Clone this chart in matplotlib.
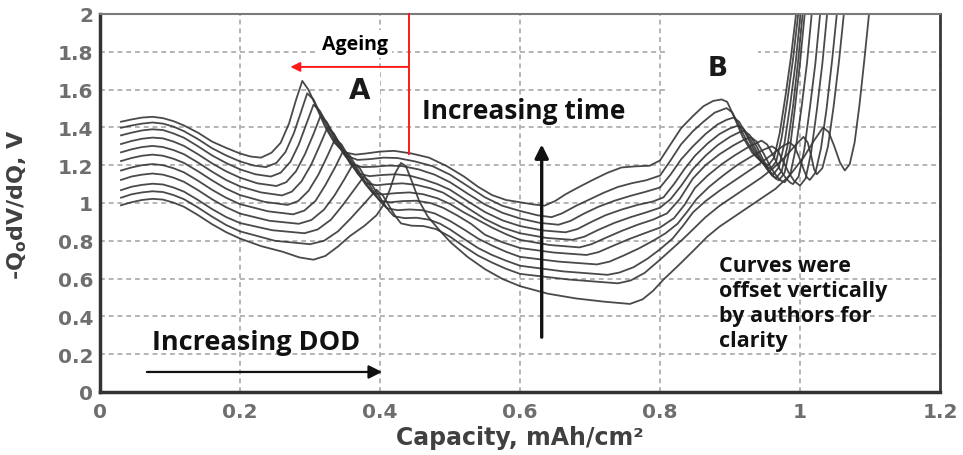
import matplotlib.pyplot as plt
from matplotlib.patches import Rectangle

# Differential voltage curves (capacity in mAh/cm2, -Q0 dV/dQ in V),
# listed from the top (most aged) curve down to the bottom one.
c0 = [(0.030, 1.430), (0.045, 1.442), (0.060, 1.452), (0.075, 1.456), (0.090, 1.449), (0.105, 1.433),
      (0.120, 1.410), (0.140, 1.372), (0.160, 1.325), (0.180, 1.292), (0.200, 1.262), (0.215, 1.246),
      (0.230, 1.240), (0.245, 1.266), (0.258, 1.318), (0.270, 1.420), (0.280, 1.545), (0.289, 1.646),
      (0.298, 1.598), (0.310, 1.500), (0.322, 1.400), (0.335, 1.318), (0.350, 1.268), (0.365, 1.256),
      (0.380, 1.262), (0.400, 1.272), (0.420, 1.276), (0.445, 1.262), (0.470, 1.240), (0.495, 1.196),
      (0.520, 1.140), (0.540, 1.086), (0.560, 1.042), (0.580, 1.016), (0.600, 1.004), (0.620, 0.992),
      (0.635, 0.986), (0.650, 1.010), (0.665, 1.046), (0.685, 1.086), (0.705, 1.124), (0.725, 1.160),
      (0.745, 1.188), (0.765, 1.194), (0.785, 1.197), (0.800, 1.225), (0.815, 1.310), (0.830, 1.395),
      (0.847, 1.460), (0.862, 1.512), (0.876, 1.540), (0.888, 1.548), (0.896, 1.535), (0.906, 1.455),
      (0.918, 1.350), (0.932, 1.265), (0.945, 1.218), (0.955, 1.200), (0.963, 1.240), (0.971, 1.370),
      (0.979, 1.560), (0.987, 1.770), (0.996, 2.050)]
c1 = [(0.030, 1.398), (0.045, 1.410), (0.060, 1.420), (0.075, 1.426), (0.090, 1.420), (0.105, 1.404),
      (0.120, 1.380), (0.140, 1.338), (0.160, 1.290), (0.180, 1.252), (0.200, 1.220), (0.220, 1.198),
      (0.237, 1.190), (0.252, 1.212), (0.265, 1.270), (0.277, 1.370), (0.287, 1.480), (0.296, 1.580),
      (0.305, 1.548), (0.315, 1.470), (0.327, 1.380), (0.340, 1.300), (0.352, 1.250), (0.368, 1.228),
      (0.385, 1.232), (0.405, 1.240), (0.425, 1.238), (0.450, 1.220), (0.475, 1.195), (0.500, 1.150),
      (0.525, 1.090), (0.550, 1.030), (0.575, 0.985), (0.600, 0.958), (0.625, 0.935), (0.645, 0.925),
      (0.660, 0.945), (0.680, 0.985), (0.700, 1.020), (0.720, 1.055), (0.740, 1.085), (0.760, 1.105),
      (0.780, 1.120), (0.800, 1.145), (0.815, 1.225), (0.830, 1.310), (0.847, 1.380), (0.862, 1.430),
      (0.878, 1.478), (0.895, 1.502), (0.903, 1.480), (0.913, 1.410), (0.925, 1.320), (0.938, 1.245),
      (0.950, 1.198), (0.958, 1.182), (0.966, 1.220), (0.974, 1.350), (0.982, 1.545), (0.990, 1.760),
      (0.999, 2.050)]
c2 = [(0.030, 1.358), (0.045, 1.372), (0.060, 1.384), (0.075, 1.390), (0.090, 1.386), (0.105, 1.368),
      (0.120, 1.345), (0.140, 1.300), (0.160, 1.252), (0.180, 1.212), (0.200, 1.178), (0.222, 1.152),
      (0.244, 1.140), (0.258, 1.160), (0.272, 1.218), (0.284, 1.310), (0.295, 1.420), (0.305, 1.520),
      (0.314, 1.488), (0.325, 1.415), (0.337, 1.330), (0.349, 1.255), (0.360, 1.205), (0.375, 1.190),
      (0.392, 1.192), (0.412, 1.198), (0.432, 1.195), (0.455, 1.178), (0.478, 1.150), (0.500, 1.110),
      (0.525, 1.050), (0.550, 0.992), (0.575, 0.948), (0.600, 0.918), (0.628, 0.895), (0.655, 0.885),
      (0.672, 0.905), (0.692, 0.945), (0.712, 0.980), (0.735, 1.012), (0.758, 1.038), (0.780, 1.060),
      (0.800, 1.082), (0.815, 1.150), (0.830, 1.230), (0.847, 1.300), (0.865, 1.365), (0.882, 1.415),
      (0.895, 1.440), (0.905, 1.452), (0.913, 1.430), (0.922, 1.370), (0.933, 1.290), (0.945, 1.220),
      (0.955, 1.170), (0.962, 1.152), (0.970, 1.190), (0.978, 1.320), (0.986, 1.520), (0.994, 1.750),
      (1.002, 2.050)]
c3 = [(0.030, 1.312), (0.045, 1.328), (0.060, 1.340), (0.075, 1.346), (0.090, 1.342), (0.105, 1.325),
      (0.120, 1.302), (0.140, 1.258), (0.160, 1.210), (0.180, 1.168), (0.200, 1.134), (0.225, 1.104),
      (0.252, 1.090), (0.266, 1.110), (0.280, 1.168), (0.293, 1.260), (0.305, 1.365), (0.315, 1.460),
      (0.324, 1.428), (0.335, 1.355), (0.347, 1.275), (0.358, 1.205), (0.370, 1.155), (0.385, 1.142),
      (0.402, 1.148), (0.422, 1.152), (0.442, 1.145), (0.462, 1.125), (0.482, 1.100), (0.500, 1.070),
      (0.525, 1.010), (0.550, 0.952), (0.575, 0.908), (0.600, 0.878), (0.632, 0.855), (0.665, 0.845),
      (0.682, 0.862), (0.702, 0.900), (0.722, 0.935), (0.745, 0.965), (0.768, 0.990), (0.790, 1.008),
      (0.805, 1.030), (0.820, 1.100), (0.835, 1.180), (0.850, 1.250), (0.868, 1.315), (0.885, 1.365),
      (0.900, 1.395), (0.912, 1.410), (0.920, 1.390), (0.930, 1.330), (0.941, 1.255), (0.952, 1.185),
      (0.960, 1.145), (0.966, 1.132), (0.974, 1.170), (0.982, 1.300), (0.990, 1.510), (0.997, 1.740),
      (1.005, 2.050)]
c4 = [(0.030, 1.268), (0.045, 1.284), (0.060, 1.296), (0.075, 1.302), (0.090, 1.296), (0.105, 1.280),
      (0.120, 1.258), (0.140, 1.214), (0.160, 1.166), (0.180, 1.122), (0.200, 1.088), (0.230, 1.056),
      (0.260, 1.040), (0.274, 1.060), (0.288, 1.115), (0.302, 1.205), (0.314, 1.305), (0.325, 1.400),
      (0.334, 1.368), (0.345, 1.298), (0.357, 1.220), (0.368, 1.155), (0.380, 1.105), (0.395, 1.094),
      (0.412, 1.100), (0.432, 1.104), (0.452, 1.096), (0.472, 1.078), (0.490, 1.055), (0.510, 1.010),
      (0.530, 0.962), (0.550, 0.915), (0.575, 0.870), (0.600, 0.840), (0.638, 0.815), (0.675, 0.805),
      (0.692, 0.822), (0.712, 0.858), (0.735, 0.895), (0.758, 0.925), (0.780, 0.950), (0.800, 0.975),
      (0.815, 1.020), (0.830, 1.090), (0.847, 1.180), (0.865, 1.250), (0.882, 1.305), (0.900, 1.350),
      (0.912, 1.372), (0.920, 1.382), (0.928, 1.360), (0.938, 1.300), (0.948, 1.225), (0.958, 1.160),
      (0.965, 1.130), (0.970, 1.120), (0.978, 1.160), (0.986, 1.300), (0.993, 1.510), (1.000, 1.740),
      (1.008, 2.050)]
c5 = [(0.030, 1.222), (0.045, 1.238), (0.060, 1.250), (0.075, 1.256), (0.090, 1.250), (0.105, 1.234),
      (0.120, 1.212), (0.140, 1.168), (0.160, 1.120), (0.180, 1.076), (0.200, 1.042), (0.235, 1.006),
      (0.268, 0.990), (0.283, 1.010), (0.298, 1.065), (0.312, 1.150), (0.325, 1.250), (0.336, 1.340),
      (0.345, 1.310), (0.356, 1.240), (0.368, 1.165), (0.379, 1.100), (0.390, 1.052), (0.405, 1.046),
      (0.422, 1.052), (0.442, 1.056), (0.462, 1.046), (0.482, 1.025), (0.500, 0.995), (0.520, 0.950),
      (0.540, 0.910), (0.560, 0.870), (0.580, 0.835), (0.600, 0.805), (0.642, 0.778), (0.685, 0.765),
      (0.702, 0.782), (0.722, 0.815), (0.745, 0.852), (0.768, 0.885), (0.790, 0.912), (0.810, 0.945),
      (0.828, 1.020), (0.847, 1.130), (0.865, 1.200), (0.885, 1.258), (0.905, 1.305), (0.920, 1.335),
      (0.930, 1.348), (0.938, 1.325), (0.948, 1.262), (0.958, 1.190), (0.967, 1.140), (0.973, 1.118),
      (0.978, 1.110), (0.986, 1.150), (0.994, 1.290), (1.002, 1.500), (1.010, 1.740), (1.018, 2.050)]
c6 = [(0.030, 1.172), (0.045, 1.188), (0.060, 1.200), (0.075, 1.206), (0.090, 1.200), (0.105, 1.184),
      (0.120, 1.162), (0.140, 1.118), (0.160, 1.070), (0.180, 1.028), (0.200, 0.994), (0.240, 0.956),
      (0.276, 0.940), (0.292, 0.960), (0.308, 1.012), (0.322, 1.095), (0.336, 1.190), (0.348, 1.280),
      (0.357, 1.250), (0.368, 1.180), (0.379, 1.110), (0.390, 1.052), (0.400, 1.012), (0.415, 1.004),
      (0.432, 1.010), (0.452, 1.012), (0.472, 1.000), (0.490, 0.975), (0.510, 0.935), (0.530, 0.890),
      (0.550, 0.832), (0.575, 0.792), (0.600, 0.762), (0.648, 0.738), (0.695, 0.725), (0.712, 0.740),
      (0.732, 0.772), (0.755, 0.808), (0.778, 0.840), (0.800, 0.870), (0.820, 0.920), (0.835, 0.990),
      (0.850, 1.080), (0.868, 1.145), (0.888, 1.205), (0.908, 1.255), (0.928, 1.300), (0.945, 1.330),
      (0.953, 1.310), (0.962, 1.250), (0.971, 1.180), (0.980, 1.130), (0.986, 1.108), (0.990, 1.100),
      (0.998, 1.140), (1.006, 1.280), (1.014, 1.500), (1.022, 1.740), (1.030, 2.050)]
c7 = [(0.030, 1.122), (0.045, 1.140), (0.060, 1.150), (0.075, 1.156), (0.090, 1.150), (0.105, 1.134),
      (0.120, 1.112), (0.140, 1.068), (0.160, 1.020), (0.180, 0.978), (0.200, 0.944), (0.242, 0.906),
      (0.284, 0.890), (0.302, 0.910), (0.320, 0.965), (0.335, 1.040), (0.349, 1.125), (0.362, 1.210),
      (0.371, 1.185), (0.381, 1.120), (0.391, 1.060), (0.401, 1.005), (0.410, 0.972), (0.425, 0.962),
      (0.442, 0.966), (0.460, 0.962), (0.478, 0.945), (0.500, 0.905), (0.520, 0.860), (0.540, 0.812),
      (0.560, 0.775), (0.580, 0.742), (0.600, 0.715), (0.655, 0.690), (0.710, 0.675), (0.728, 0.690),
      (0.748, 0.722), (0.770, 0.760), (0.790, 0.800), (0.808, 0.840), (0.825, 0.890), (0.838, 0.950),
      (0.852, 1.020), (0.870, 1.085), (0.890, 1.145), (0.910, 1.200), (0.930, 1.245), (0.948, 1.282),
      (0.960, 1.300), (0.968, 1.280), (0.976, 1.220), (0.984, 1.160), (0.992, 1.115), (1.000, 1.092),
      (1.008, 1.130), (1.016, 1.270), (1.024, 1.490), (1.032, 1.740), (1.040, 2.050)]
c8 = [(0.030, 1.068), (0.045, 1.086), (0.060, 1.096), (0.075, 1.102), (0.090, 1.098), (0.105, 1.082),
      (0.120, 1.060), (0.140, 1.016), (0.160, 0.968), (0.180, 0.926), (0.200, 0.894), (0.246, 0.856),
      (0.292, 0.840), (0.311, 0.860), (0.330, 0.912), (0.346, 0.985), (0.362, 1.065), (0.377, 1.140),
      (0.386, 1.110), (0.396, 1.052), (0.405, 1.000), (0.413, 0.958), (0.420, 0.930), (0.435, 0.920),
      (0.452, 0.922), (0.470, 0.912), (0.486, 0.890), (0.500, 0.860), (0.520, 0.810), (0.540, 0.762),
      (0.560, 0.725), (0.580, 0.695), (0.600, 0.668), (0.662, 0.638), (0.725, 0.620), (0.742, 0.632),
      (0.762, 0.660), (0.782, 0.705), (0.800, 0.755), (0.818, 0.812), (0.833, 0.880), (0.847, 0.950),
      (0.865, 1.010), (0.885, 1.065), (0.905, 1.115), (0.925, 1.165), (0.945, 1.215), (0.962, 1.262),
      (0.975, 1.300), (0.985, 1.320), (0.992, 1.300), (0.999, 1.240), (1.006, 1.170), (1.010, 1.135),
      (1.014, 1.122), (1.022, 1.160), (1.030, 1.290), (1.038, 1.500), (1.046, 1.760), (1.054, 2.050)]
c9 = [(0.030, 1.028), (0.045, 1.046), (0.060, 1.056), (0.075, 1.062), (0.090, 1.058), (0.105, 1.042),
      (0.120, 1.020), (0.140, 0.976), (0.160, 0.928), (0.180, 0.884), (0.200, 0.850), (0.250, 0.800),
      (0.300, 0.782), (0.320, 0.800), (0.340, 0.850), (0.358, 0.918), (0.377, 0.995), (0.395, 1.070),
      (0.404, 1.040), (0.413, 0.985), (0.421, 0.935), (0.430, 0.892), (0.445, 0.880), (0.462, 0.878),
      (0.480, 0.862), (0.500, 0.822), (0.520, 0.770), (0.540, 0.722), (0.560, 0.685), (0.580, 0.652),
      (0.600, 0.625), (0.670, 0.595), (0.740, 0.575), (0.758, 0.590), (0.778, 0.630), (0.800, 0.700),
      (0.818, 0.760), (0.833, 0.810), (0.847, 0.860), (0.865, 0.925), (0.885, 0.985), (0.905, 1.035),
      (0.925, 1.085), (0.945, 1.135), (0.962, 1.185), (0.978, 1.240), (0.992, 1.300), (1.005, 1.350),
      (1.011, 1.320), (1.016, 1.250), (1.020, 1.180), (1.024, 1.152), (1.032, 1.185), (1.040, 1.300),
      (1.048, 1.510), (1.056, 1.760), (1.064, 2.050)]
c10 = [(0.030, 0.988), (0.045, 1.004), (0.060, 1.016), (0.075, 1.022), (0.090, 1.018), (0.105, 1.002),
       (0.120, 0.980), (0.140, 0.936), (0.160, 0.888), (0.180, 0.846), (0.200, 0.812), (0.230, 0.772),
       (0.261, 0.742), (0.285, 0.712), (0.305, 0.700), (0.322, 0.720), (0.340, 0.770), (0.357, 0.825),
       (0.378, 0.880), (0.395, 0.935), (0.405, 0.990), (0.414, 1.070), (0.422, 1.160), (0.430, 1.212),
       (0.437, 1.195), (0.446, 1.110), (0.456, 1.010), (0.468, 0.930), (0.484, 0.860), (0.500, 0.795),
       (0.525, 0.715), (0.550, 0.650), (0.575, 0.598), (0.600, 0.560), (0.640, 0.520), (0.680, 0.495),
       (0.720, 0.478), (0.757, 0.466), (0.775, 0.490), (0.790, 0.535), (0.805, 0.595), (0.825, 0.665),
       (0.847, 0.745), (0.867, 0.820), (0.885, 0.875), (0.905, 0.925), (0.925, 0.975), (0.945, 1.025),
       (0.965, 1.075), (0.985, 1.145), (1.005, 1.240), (1.020, 1.330), (1.033, 1.400), (1.041, 1.375),
       (1.049, 1.300), (1.057, 1.215), (1.064, 1.172), (1.071, 1.205), (1.078, 1.320), (1.085, 1.520),
       (1.092, 1.760), (1.100, 2.050)]
curves = [c0, c1, c2, c3, c4, c5, c6, c7, c8, c9, c10]

x_ticks = [0, 0.2, 0.4, 0.6, 0.8, 1.0, 1.2]
x_tick_labels = ['0', '0.2', '0.4', '0.6', '0.8', '1', '1.2']
y_ticks = [0, 0.2, 0.4, 0.6, 0.8, 1.0, 1.2, 1.4, 1.6, 1.8, 2.0]
y_tick_labels = ['0', '0.2', '0.4', '0.6', '0.8', '1', '1.2', '1.4', '1.6', '1.8', '2']

fig = plt.figure(figsize=(9.63, 4.56), dpi=100)
ax = fig.add_axes([100 / 963, 63 / 456, 840 / 963, 378 / 456])
ax.set_xlim(0, 1.2)
ax.set_ylim(0, 2)

for c in curves:
    xs = [p[0] for p in c]
    ys = [p[1] for p in c]
    ax.plot(xs, ys, color='#363636', lw=1.3, alpha=0.9, zorder=2)

# dotted grid and frame
ax.set_axisbelow(True)
ax.grid(True, color='#b4b4b4', linestyle=(0, (2.5, 2)), linewidth=1.4)
ax.set_xticks(x_ticks)
ax.set_xticklabels(x_tick_labels)
ax.set_yticks(y_ticks)
ax.set_yticklabels(y_tick_labels)
ax.tick_params(length=0, labelsize=14.5, labelcolor='#6e6e6e')
ax.tick_params(axis='x', pad=7)
ax.tick_params(axis='y', pad=5)
for lab in ax.get_xticklabels() + ax.get_yticklabels():
    lab.set_fontweight('bold')
for side in ['left', 'bottom']:
    ax.spines[side].set_linewidth(2.5)
    ax.spines[side].set_color('#333333')
ax.spines['right'].set_linewidth(2)
ax.spines['right'].set_color('#3a3a3a')
ax.spines['top'].set_linewidth(1.5)
ax.spines['top'].set_color('#7a7a7a')

ax.set_xlabel('Capacity, mAh/cm²', fontsize=17, fontweight='bold', color='#404040')
ax.set_ylabel(r'-Q$_\mathbf{o}$dV/dQ, V', fontsize=16, fontweight='bold', color='#404040')
ax.xaxis.set_label_coords(0.5, -0.088)
ax.yaxis.set_label_coords(-0.084, 0.5)

# white patch behind the B label
ax.add_patch(Rectangle((0.81, 1.58), 0.13, 0.3, facecolor='white', edgecolor='none', zorder=1.5))

ax.text(0.371, 1.60, 'A', fontsize=20, fontweight='bold', color='#1a1a1a', ha='center', va='center',
        zorder=1.5, bbox=dict(boxstyle='square,pad=0.35', facecolor='white', edgecolor='none'))
ax.text(0.883, 1.714, 'B', fontsize=19, fontweight='bold', color='#1a1a1a', ha='center', va='center', zorder=3)
ax.text(0.364, 1.84, 'Ageing', fontsize=14, fontweight='bold', family='Open Sans', color='black',
        ha='center', va='center', zorder=1.5,
        bbox=dict(boxstyle='square,pad=0.2', facecolor='white', edgecolor='none'))

# ageing marker in red
ax.plot([0.441, 0.441], [1.26, 2.0], color='#ff1a1a', lw=1.4, zorder=4, clip_on=False)
ax.annotate('', xy=(0.272, 1.72), xytext=(0.441, 1.72),
            arrowprops=dict(arrowstyle='-|>', color='#ff1a1a', lw=1.4, mutation_scale=14,
                            shrinkA=0, shrinkB=0), zorder=4)

ax.text(0.46, 1.487, 'Increasing time', fontsize=19, fontweight='bold', family='Open Sans',
        color='#111111', ha='left', va='center', zorder=3)
ax.annotate('', xy=(0.631, 1.31), xytext=(0.631, 0.29),
            arrowprops=dict(arrowstyle='-|>', color='#111111', lw=2.4, mutation_scale=20,
                            shrinkA=0, shrinkB=0), zorder=4)

ax.text(0.074, 0.265, 'Increasing DOD', fontsize=19.5, fontweight='bold', family='Open Sans',
        color='#111111', ha='left', va='center', zorder=3)
ax.annotate('', xy=(0.403, 0.106), xytext=(0.067, 0.106),
            arrowprops=dict(arrowstyle='-|>', color='#111111', lw=1.6, mutation_scale=20,
                            shrinkA=0, shrinkB=0), zorder=4)

ax.text(0.884, 0.4735, 'Curves were\noffset vertically\nby authors for\nclarity', fontsize=15.5,
        fontweight='bold', family='Open Sans', color='#111111', ha='left', va='center',
        linespacing=1.25, zorder=3)

fig.savefig('out.png', dpi=100)
